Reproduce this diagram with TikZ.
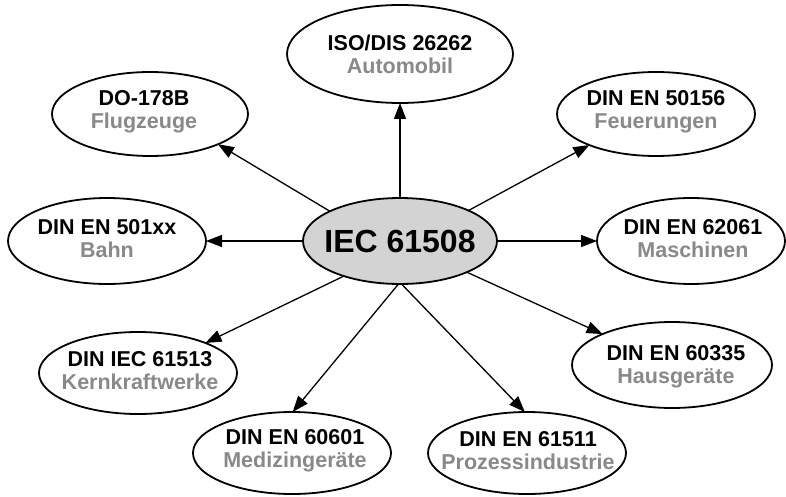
\documentclass[tikz,border=0pt]{standalone}
\usepackage{fontspec}
\setmainfont{Liberation Sans}
\usetikzlibrary{shapes.geometric,arrows.meta}
\definecolor{subgray}{RGB}{137,137,137}
\definecolor{hubfill}{RGB}{211,211,211}
\tikzset{
  ell/.style={ellipse, draw=black, line width=1.8pt, fill=white, inner sep=0pt, outer sep=0pt},
  lbl/.style={align=center, font=\fontsize{21.5}{23}\selectfont\bfseries, inner sep=0pt},
  con/.style={-{Triangle[length=16pt,width=12pt]}, line width=1.3pt},
}
\begin{document}
\begin{tikzpicture}[x=1pt,y=1pt]
\useasboundingbox (0,0) rectangle (786,496);
\fill[white] (0,0) rectangle (786,496);
% ellipses
\node[ell, fill=hubfill, minimum width=194pt, minimum height=86pt] (c) at (400,255) {};
\node[ell, minimum width=226pt, minimum height=98pt] (iso) at (400,442) {};
\node[ell, minimum width=196pt, minimum height=84pt] (do) at (150,382) {};
\node[ell, minimum width=198pt, minimum height=84pt] (ff) at (656,382) {};
\node[ell, minimum width=198pt, minimum height=86pt] (bahn) at (107,255) {};
\node[ell, minimum width=188pt, minimum height=86pt] (mas) at (691,255) {};
\node[ell, minimum width=198pt, minimum height=82pt] (kern) at (138,123) {};
\node[ell, minimum width=200pt, minimum height=86pt] (haus) at (672,131) {};
\node[ell, minimum width=198pt, minimum height=82pt] (med) at (292,43) {};
\node[ell, minimum width=198pt, minimum height=82pt] (pro) at (527,43) {};
% labels
\node[inner sep=0pt, font=\fontsize{32}{36}\selectfont\bfseries] (ct) at (c) {IEC 61508};
\node[lbl] (isot) at (iso) {ISO/DIS 26262\\{\color{subgray}Automobil}};
\node[lbl] (dot) at ([xshift=-6pt,yshift=2pt]do.center) {DO-178B\\{\color{subgray}Flugzeuge}};
\node[lbl] (fft) at ([yshift=2pt]ff.center) {DIN EN 50156\\{\color{subgray}Feuerungen}};
\node[lbl] (bahnt) at ([yshift=2pt]bahn.center) {DIN EN 501xx\\{\color{subgray}Bahn}};
\node[lbl] (mast) at ([xshift=2pt,yshift=2pt]mas.center) {DIN EN 62061\\{\color{subgray}Maschinen}};
\node[lbl] (kernt) at ([xshift=2pt,yshift=2pt]kern.center) {DIN IEC 61513\\{\color{subgray}Kernkraftwerke}};
\node[lbl] (haust) at ([xshift=4pt,yshift=-2pt]haus.center) {DIN EN 60335\\{\color{subgray}Hausger\"ate}};
\node[lbl] (medt) at ([xshift=3pt,yshift=2pt]med.center) {DIN EN 60601\\{\color{subgray}Medizinger\"ate}};
\node[lbl] (prot) at ([xshift=1pt,yshift=2pt]pro.center) {DIN EN 61511\\{\color{subgray}Prozessindustrie}};
% connectors
\draw[con] (c.90) -- (iso.270);
\draw[con] (c.157.5) -- (do.336.7);
\draw[con] (c.24) -- (ff.205);
\draw[con] (c.180) -- (bahn.0);
\draw[con] (c.0) -- (mas.180);
\draw[con] (c.335) -- (haus.156);
\draw[con] (c.272) -- (pro.93);
\draw[con] (c.268) -- (med.89);
\draw[con] (c.212) -- (kern.24);
\end{tikzpicture}
\end{document}
